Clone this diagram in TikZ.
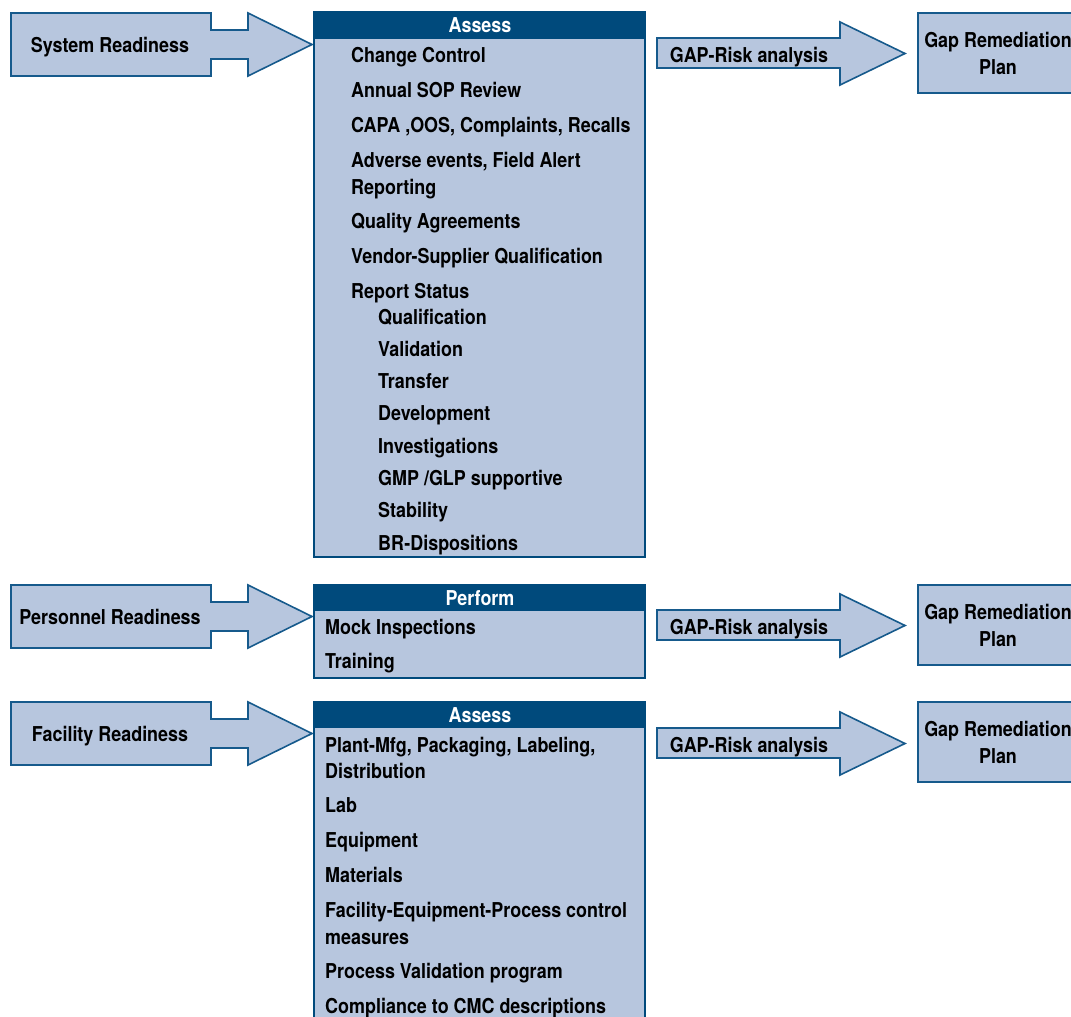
\documentclass[tikz,border=0pt]{standalone}
\usepackage{fontspec}
\setmainfont{TeX Gyre Heros}[FakeStretch=0.875]
\definecolor{fillb}{HTML}{B7C6DE}
\definecolor{darkb}{HTML}{004A7C}
\definecolor{lineb}{HTML}{165A8C}
\tikzset{
  shapebox/.style={fill=fillb, draw=lineb, line width=1.6pt, line join=miter},
  listbox/.style={fill=fillb, draw=darkb, line width=1.6pt},
  hdrbar/.style={fill=darkb},
  lbl/.style={font=\fontsize{20.5}{27}\selectfont\bfseries, text=black, inner sep=0pt},
  item/.style={lbl, anchor=base west},
  hdrtxt/.style={lbl, text=white, anchor=base},
  ctrtxt/.style={lbl, anchor=base},
  gaptxt/.style={lbl, align=center, anchor=center},
}
\newcommand\readyarrow[3]{% #1 top y, #2 name, #3 text
  \draw[shapebox] (11,#1) -- (211,#1) -- (211,#1+17) -- (248,#1+17) -- (248,#1)
    -- (312,#1+31.5) -- (248,#1+63) -- (248,#1+46) -- (211,#1+46) -- (211,#1+63)
    -- (11,#1+63) -- cycle;
  \node[ctrtxt] (#2) at (110,#1+39.5) {#3};
}
\newcommand\gaparrow[2]{% #1 top y of shaft, #2 name
  \draw[shapebox] (657,#1) -- (840,#1) -- (840,#1-16) -- (905,#1+15.5)
    -- (840,#1+47) -- (840,#1+30) -- (657,#1+30) -- cycle;
  \node[ctrtxt] (#2) at (749,#1+24) {GAP-Risk analysis};
}
\newcommand\gapbox[2]{% #1 top y, #2 name
  \draw[shapebox] (918,#1) rectangle (1090,#1+80);
  \node[gaptxt] (#2) at (998,#1+40) {Gap Remediation\\Plan};
}
\begin{document}
\begin{tikzpicture}[x=1pt,y=-1pt]
\useasboundingbox (0,0) rectangle (1071,1017);
\fill[white] (0,0) rectangle (1071,1017);

% ---------- Row 1: System Readiness ----------
\readyarrow{13}{sysR}{System Readiness}
\draw[listbox] (314,12) rectangle (645,557);
\fill[hdrbar] (313,12) rectangle (646,39);
\node[hdrtxt] (hA1) at (480,32.5) {Assess};
\node[item] (a1) at (351,62.5) {Change Control};
\node[item] (a2) at (351,97.5) {Annual SOP Review};
\node[item] (a3) at (351,132.5) {CAPA ,OOS, Complaints, Recalls};
\node[item] (a4) at (351,167.5) {Adverse events, Field Alert};
\node[item] (a4b) at (351,194) {Reporting};
\node[item] (a5) at (351,228.5) {Quality Agreements};
\node[item] (a6) at (351,263.5) {Vendor-Supplier Qualification};
\node[item] (a7) at (351,298.5) {Report Status};
\node[item] (s1) at (378,324.5) {Qualification};
\node[item] (s2) at (378,356.5) {Validation};
\node[item] (s3) at (378,388.5) {Transfer};
\node[item] (s4) at (378,420.5) {Development};
\node[item] (s5) at (378,453) {Investigations};
\node[item] (s6) at (378,485.5) {GMP /GLP supportive};
\node[item] (s7) at (378,517.5) {Stability};
\node[item] (s8) at (378,550) {BR-Dispositions};
\gaparrow{38}{gap1}
\gapbox{13}{rem1}

% ---------- Row 2: Personnel Readiness ----------
\readyarrow{585}{perR}{Personnel Readiness}
\draw[listbox] (314,585) rectangle (645,678);
\fill[hdrbar] (313,584) rectangle (646,611);
\node[hdrtxt] (hP) at (480,605) {Perform};
\node[item] (p1) at (325,634) {Mock Inspections};
\node[item] (p2) at (325,668) {Training};
\gaparrow{610}{gap2}
\gapbox{585}{rem2}

% ---------- Row 3: Facility Readiness ----------
\readyarrow{702}{facR}{Facility Readiness}
\draw[listbox] (314,702) rectangle (645,1040);
\fill[hdrbar] (313,701) rectangle (646,728);
\node[hdrtxt] (hA3) at (480,722) {Assess};
\node[item] (f1) at (325,752) {Plant-Mfg, Packaging, Labeling,};
\node[item] (f1b) at (325,778) {Distribution};
\node[item] (f2) at (325,812) {Lab};
\node[item] (f3) at (325,847) {Equipment};
\node[item] (f4) at (325,882) {Materials};
\node[item] (f5) at (325,917) {Facility-Equipment-Process control};
\node[item] (f5b) at (325,944) {measures};
\node[item] (f6) at (325,978) {Process Validation program};
\node[item] (f7) at (325,1013) {Compliance to CMC descriptions};
\gaparrow{728}{gap3}
\gapbox{702}{rem3}
\end{tikzpicture}
\end{document}
